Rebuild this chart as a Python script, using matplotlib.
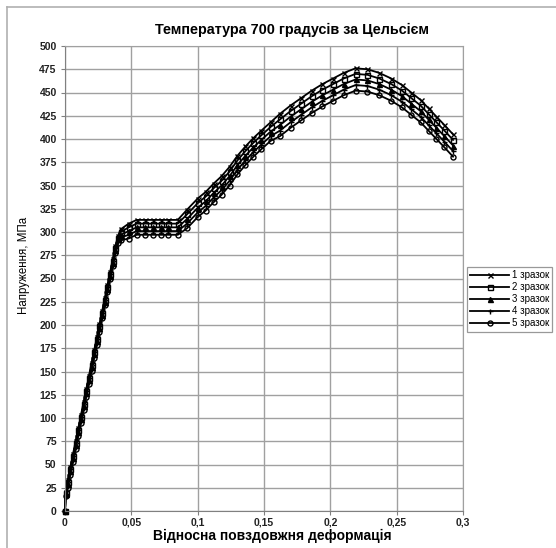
import matplotlib
matplotlib.use("Agg")
import matplotlib.pyplot as plt
from matplotlib.lines import Line2D
from matplotlib.ticker import FuncFormatter

plt.rcParams['font.family'] = ['Liberation Sans', 'DejaVu Sans']

title = "Температура 700 градусів за Цельсієм"
x_label = "Відносна повздовжня деформація"
y_label = "Напруження, МПа"
series_names = ["1 зразок", "2 зразок", "3 зразок", "4 зразок", "5 зразок"]

strain = [0, 0.0005, 0.002, 0.004, 0.006, 0.008, 0.010, 0.012, 0.014, 0.016,
          0.018, 0.020, 0.022, 0.024, 0.026, 0.028, 0.030, 0.032, 0.034, 0.036,
          0.038, 0.040, 0.042, 0.048, 0.054, 0.060, 0.066, 0.072, 0.078, 0.085,
          0.092, 0.100, 0.106, 0.112, 0.118, 0.124, 0.130, 0.136, 0.142, 0.148,
          0.155, 0.162, 0.170, 0.178, 0.186, 0.194, 0.202, 0.210, 0.219, 0.228,
          0.237, 0.246, 0.254, 0.261, 0.268, 0.274, 0.280, 0.286, 0.2925]

stress_1 = [0, 20, 33, 47, 61, 75, 89, 103, 117, 131,
            145, 159, 173, 187, 201, 215, 229, 243, 257, 271,
            285, 296, 303, 309, 313, 313, 313, 313, 313, 313,
            324, 336, 343, 352, 360, 370, 382, 392, 401, 409,
            418, 427, 436, 444, 452, 459, 465, 471, 476, 475,
            471, 465, 458, 450, 442, 433, 424, 415, 405]
stress_2 = [0, 19, 31, 45, 59, 73, 87, 101, 115, 129,
            143, 157, 171, 185, 199, 213, 227, 241, 255, 269,
            283, 294, 300, 305, 309, 309, 309, 309, 309, 309,
            319, 331, 338, 347, 355, 365, 377, 387, 396, 404,
            413, 421, 430, 438, 446, 453, 459, 465, 470, 469,
            465, 459, 452, 444, 436, 427, 418, 409, 399]
stress_3 = [0, 18, 29, 43, 57, 71, 85, 99, 113, 127,
            141, 155, 169, 183, 197, 211, 225, 239, 253, 267,
            281, 292, 297, 301, 305, 305, 305, 305, 305, 305,
            314, 326, 333, 342, 350, 360, 372, 382, 391, 399,
            408, 415, 424, 432, 440, 447, 453, 459, 464, 463,
            459, 453, 446, 438, 430, 421, 412, 403, 393]
stress_4 = [0, 17, 27, 41, 55, 69, 83, 97, 111, 125,
            139, 153, 167, 181, 195, 209, 223, 237, 251, 265,
            279, 290, 294, 297, 301, 301, 301, 301, 301, 301,
            309, 321, 328, 337, 345, 355, 367, 377, 386, 394,
            403, 409, 418, 426, 434, 441, 447, 453, 458, 457,
            453, 447, 440, 432, 424, 415, 406, 397, 387]
stress_5 = [0, 16, 25, 39, 53, 67, 81, 95, 109, 123,
            137, 151, 165, 179, 193, 207, 221, 235, 249, 263,
            277, 288, 291, 293, 297, 297, 297, 297, 297, 297,
            304, 316, 323, 332, 340, 350, 362, 372, 381, 389,
            398, 403, 412, 420, 428, 435, 441, 447, 452, 451,
            447, 441, 434, 426, 418, 409, 400, 391, 381]

x_ticks = [0, 0.05, 0.1, 0.15, 0.2, 0.25, 0.3]
y_ticks = list(range(0, 501, 25))

all_stress = [stress_1, stress_2, stress_3, stress_4, stress_5]
markers = ['x', 's', '^', '+', 'o']

W, H = 556, 548
fig = plt.figure(figsize=(W / 100, H / 100), dpi=100)
fig.patch.set_facecolor('white')

# outer chart frame (top and left edges)
fig.add_artist(Line2D([7 / W, 1.0], [1 - 7 / H, 1 - 7 / H], color='#b0b0b0', lw=1.2))
fig.add_artist(Line2D([7 / W, 7 / W], [0.0, 1 - 7 / H], color='#b0b0b0', lw=1.2))

ax = fig.add_axes([65 / W, 37 / H, 398 / W, 465 / H])

for name, ys, mk in zip(series_names, all_stress, markers):
    ax.plot(strain, ys, color='black', lw=1.3, marker=mk, markersize=3.6,
            markerfacecolor='none' if mk in ('s', 'o') else 'black',
            markeredgewidth=1.0, label=name, clip_on=False)

ax.set_xlim(0, 0.3)
ax.set_ylim(0, 500)
ax.set_xticks(x_ticks)
ax.set_yticks(y_ticks)
ax.xaxis.set_major_formatter(FuncFormatter(lambda v, p: f"{v:g}".replace('.', ',')))
ax.grid(True, color='#a0a0a0', lw=1.0)
ax.set_axisbelow(True)
for side in ['top', 'right']:
    ax.spines[side].set_color('#a0a0a0')
for side in ['left', 'bottom']:
    ax.spines[side].set_color('#808080')
ax.tick_params(axis='both', labelsize=7.5, length=3, color='#808080', pad=3,
               labelcolor='#222222')
ax.tick_params(axis='x', pad=2)
for lab in ax.get_xticklabels() + ax.get_yticklabels():
    lab.set_fontweight('bold')

fig.text(292 / W, 1 - 30 / H, title, ha='center', va='center',
         fontsize=10.4, fontweight='bold')
ax.set_xlabel(x_label, fontsize=10, fontweight='bold', va='center')
ax.xaxis.set_label_coords((272 - 65) / 398, -(536 - 511) / 465)
ax.set_ylabel(y_label, fontsize=8.3, va='center')
ax.yaxis.set_label_coords(-(65 - 24) / 398, (511 - 265) / 465)

leg = ax.legend(loc='upper left', bbox_to_anchor=(467 / W, 1 - 267 / H),
                bbox_transform=fig.transFigure, fontsize=7, frameon=True,
                fancybox=False, edgecolor='#808080', handlelength=4.0,
                handletextpad=0.25, labelspacing=0.2, borderpad=0.35,
                borderaxespad=0)
leg.get_frame().set_linewidth(0.9)

fig.savefig('out.png', dpi=100)
